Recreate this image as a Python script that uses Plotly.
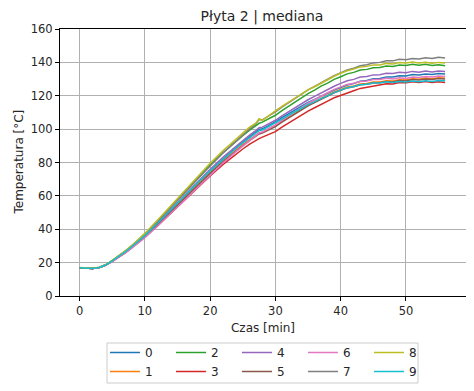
import plotly.graph_objects as go

# time axis [min]
czas = [0, 1, 2, 3, 4, 5, 6, 7, 8, 9, 10, 12, 14, 16, 18, 20, 22, 24, 25, 26, 27, 27.5, 28, 29,
        30, 31, 32, 33, 34, 35, 36, 37, 38, 39, 40, 41, 42, 43, 44, 45, 46, 47, 48, 49, 50,
        51, 52, 53, 54, 55, 56]

s0 = [17.0, 16.6, 16.5, 17.1, 18.6, 21.0, 23.6, 26.5, 29.6, 32.8, 36.2, 43.7, 51.6, 59.5, 67.3, 74.9, 82.2, 89.0, 92.2, 95.2, 98.1, 99.8, 100.2, 102.2,
      104.3, 106.9, 109.2, 111.7, 113.7, 116.0, 117.8, 119.9, 121.5, 123.4, 124.8, 126.4, 127.3, 128.7, 129.2, 130.2, 130.4, 131.3, 131.2, 132.0, 131.9,
      132.7, 132.4, 133.1, 132.7, 133.3, 133.0]
s1 = [17.0, 16.6, 16.5, 17.1, 18.5, 20.9, 23.4, 26.3, 29.3, 32.5, 35.8, 43.2, 51.0, 58.8, 66.5, 74.0, 81.1, 87.7, 90.7, 93.6, 96.2, 97.7, 98.1, 100.0,
      102.0, 104.7, 107.2, 109.8, 112.0, 114.4, 116.4, 118.6, 120.3, 122.3, 123.8, 125.2, 125.9, 127.1, 127.4, 128.2, 128.2, 129.0, 128.8, 129.6, 129.4,
      130.2, 129.9, 130.6, 130.2, 130.8, 130.5]
s2 = [17.0, 16.6, 16.5, 17.1, 18.7, 21.2, 23.9, 26.9, 30.1, 33.5, 37.2, 45.2, 53.6, 62.1, 70.4, 78.5, 86.0, 92.9, 96.1, 99.2, 102.0, 103.5, 104.2, 106.2,
      108.3, 111.1, 113.7, 116.4, 118.7, 121.3, 123.4, 125.8, 127.6, 129.8, 131.4, 133.1, 134.0, 135.4, 135.8, 136.8, 136.9, 137.8, 137.6, 138.4, 138.2,
      138.8, 138.3, 138.9, 138.2, 138.6, 138.0]
s3 = [17.0, 16.6, 16.5, 17.0, 18.4, 20.7, 23.1, 25.9, 28.9, 32.0, 35.2, 42.3, 49.8, 57.3, 64.7, 72.0, 78.9, 85.2, 88.1, 90.9, 93.5, 94.3, 95.2, 96.8,
      98.5, 101.2, 103.6, 106.2, 108.4, 110.8, 112.8, 115.0, 116.8, 118.8, 120.3, 121.9, 123.0, 124.4, 125.0, 126.0, 126.3, 127.2, 127.1, 127.9, 127.8,
      128.4, 127.9, 128.5, 127.9, 128.4, 128.0]
s4 = [17.0, 16.6, 16.5, 17.1, 18.6, 21.1, 23.7, 26.6, 29.8, 33.0, 36.5, 44.1, 52.2, 60.3, 68.3, 76.0, 83.3, 90.1, 93.2, 96.3, 99.1, 100.8, 101.2, 103.2,
      105.3, 108.0, 110.4, 113.0, 115.2, 117.6, 119.6, 121.8, 123.6, 125.7, 127.4, 129.0, 129.8, 131.2, 131.6, 132.5, 132.6, 133.5, 133.3, 134.1, 133.8,
      134.6, 134.1, 134.8, 134.3, 134.9, 134.5]
s5 = [17.0, 16.6, 16.5, 17.0, 18.5, 20.8, 23.3, 26.1, 29.1, 32.3, 35.6, 42.9, 50.6, 58.3, 66.0, 73.5, 80.5, 87.1, 90.1, 93.0, 95.6, 97.1, 97.6, 99.5,
      101.5, 104.2, 106.7, 109.3, 111.5, 113.9, 115.9, 118.1, 119.8, 121.8, 123.3, 124.7, 125.4, 126.6, 126.9, 127.7, 127.8, 128.6, 128.3, 129.1, 128.9,
      129.7, 129.4, 130.1, 129.7, 130.3, 130.0]
s6 = [17.0, 16.6, 16.5, 17.0, 18.4, 20.6, 23.0, 25.8, 28.7, 31.8, 35.0, 42.1, 49.6, 57.3, 65.0, 72.5, 79.8, 86.7, 89.9, 93.1, 96.0, 97.8, 98.3, 100.4,
      102.5, 105.3, 108.0, 110.8, 113.1, 115.5, 117.7, 120.0, 121.8, 123.8, 125.4, 126.8, 127.5, 128.5, 128.9, 129.7, 129.7, 130.5, 130.1, 130.8, 130.4,
      131.2, 130.9, 131.6, 131.2, 131.8, 131.5]
s7 = [16.9, 16.6, 16.5, 17.2, 18.7, 21.2, 23.9, 26.9, 30.1, 33.4, 37.0, 44.9, 53.2, 61.6, 69.8, 77.9, 85.8, 93.2, 96.7, 100.0, 103.2, 105.8, 105.6, 107.9,
      110.3, 113.2, 115.8, 118.6, 120.9, 123.5, 125.6, 128.0, 129.9, 132.1, 133.8, 135.5, 136.5, 138.0, 138.6, 139.7, 140.0, 141.0, 140.9, 141.8, 141.6,
      142.3, 142.0, 142.8, 142.3, 143.0, 142.6]
s8 = [17.1, 16.7, 16.6, 17.2, 18.8, 21.3, 24.0, 27.0, 30.3, 33.8, 37.5, 45.7, 54.3, 62.9, 71.3, 79.5, 87.2, 94.4, 97.8, 101.0, 103.6, 106.2, 105.2, 107.8,
      110.9, 113.6, 116.2, 118.8, 121.0, 123.5, 125.4, 127.6, 129.5, 131.7, 133.5, 135.0, 136.0, 137.3, 137.6, 138.5, 138.5, 139.4, 139.0, 139.9, 139.6,
      140.2, 139.6, 140.1, 139.5, 140.0, 139.6]
s9 = [17.0, 16.6, 16.5, 17.1, 18.6, 21.0, 23.6, 26.5, 29.6, 32.8, 36.2, 43.7, 51.7, 59.6, 67.4, 75.0, 82.1, 88.7, 91.8, 94.7, 97.5, 99.1, 99.5, 101.5,
      103.5, 106.0, 108.2, 110.6, 112.5, 114.7, 116.5, 118.5, 120.1, 121.9, 123.4, 124.8, 125.5, 126.6, 126.9, 127.7, 127.6, 128.4, 128.0, 128.6, 128.2,
      128.9, 128.4, 129.0, 128.6, 129.2, 129.0]

series_names = ["0", "1", "2", "3", "4", "5", "6", "7", "8", "9"]
series_values = [s0, s1, s2, s3, s4, s5, s6, s7, s8, s9]
colors = ["#1f77b4", "#ff7f0e", "#2ca02c", "#d62728", "#9467bd",
          "#8c564b", "#e377c2", "#7f7f7f", "#bcbd22", "#17becf"]

x_ticks = [0, 10, 20, 30, 40, 50]
y_ticks = [0, 20, 40, 60, 80, 100, 120, 140, 160]

# The page body has an 8px default margin, so the figure is 8px smaller
W, H = 466, 383
OFF = 8

fig = go.Figure()
for i, (name, vals) in enumerate(zip(series_names, series_values)):
    col = i // 2
    fig.add_trace(go.Scatter(
        x=czas, y=vals, mode="lines", name=name,
        line=dict(color=colors[i], width=1.5),
        legend="legend" if col == 0 else f"legend{col + 1}",
    ))

font = "DejaVu Sans, Liberation Sans, sans-serif"
axis_common = dict(
    showline=True, linecolor="#000000", linewidth=1, mirror=True,
    ticks="outside", ticklen=4, tickcolor="#000000", tickwidth=1,
    showgrid=True, gridcolor="#b0b0b0", gridwidth=0.8,
    zeroline=False, tickfont=dict(size=11.5, color="#262626"),
    automargin=False,
)

legends = {}
for col in range(5):
    key = "legend" if col == 0 else f"legend{col + 1}"
    left_px = 105 + 66 * col
    legends[key] = dict(
        orientation="v", xref="container", yref="container",
        x=(left_px - OFF) / W, xanchor="left",
        y=1 - (338 - OFF) / H, yanchor="top",
        bgcolor="rgba(0,0,0,0)", borderwidth=0,
        font=dict(size=12, color="#262626"), tracegroupgap=0,
    )

fig.update_layout(
    width=W, height=H,
    margin=dict(l=60 - OFF, r=W - (466 - OFF), t=29 - OFF, b=H - (296 - OFF), autoexpand=False),
    paper_bgcolor="white", plot_bgcolor="white",
    font=dict(family=font, size=12, color="#262626"),
    title=dict(text="Płyta 2 | mediana", x=(262 - OFF) / W, xanchor="center",
               y=1 - (16 - OFF) / H, yanchor="middle",
               font=dict(size=14, color="#262626")),
    xaxis=dict(range=[-3.0, 59.2], tickvals=x_ticks,
               title=dict(text="Czas [min]", font=dict(size=12), standoff=6), **axis_common),
    yaxis=dict(range=[0, 160], tickvals=y_ticks, **axis_common),
    annotations=[dict(text="Temperatura [°C]", textangle=-90, showarrow=False,
                      xref="paper", yref="paper", x=(18 - 60) / 406, y=0.5,
                      xanchor="center", yanchor="middle",
                      font=dict(size=12, color="#262626"))],
    showlegend=True,
    shapes=[dict(type="rect", xref="paper", yref="paper",
                 x0=(107 - 60) / 406, x1=(418 - 60) / 406,
                 y0=(296 - 383) / 267, y1=(296 - 343) / 267,
                 line=dict(color="#cccccc", width=1), fillcolor="white", layer="below")],
    **legends,
)

fig.write_html("out.html")
